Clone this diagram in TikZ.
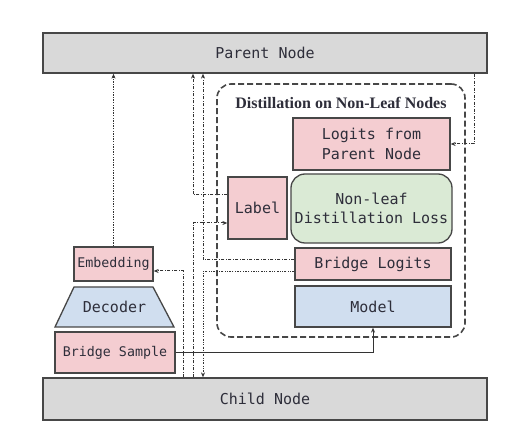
\documentclass[tikz,border=0pt]{standalone}
\usepackage{fontspec}
\setmainfont{Liberation Serif}
\newfontfamily\monof{DejaVu Sans Mono}
\usetikzlibrary{arrows.meta,calc}
\definecolor{pinkf}{HTML}{F4CDD1}
\definecolor{bluef}{HTML}{D0DEEF}
\definecolor{greenf}{HTML}{DAEAD5}
\definecolor{grayf}{HTML}{D9D9D9}
\definecolor{bordc}{HTML}{474747}
\definecolor{txtc}{HTML}{2E2E3A}
\definecolor{connc}{HTML}{333333}
\begin{document}
\begin{tikzpicture}[x=1pt,y=-1pt,
  box/.style={draw=bordc,line width=1.3pt,inner sep=0pt,text=txtc,
    font=\monof\fontsize{15}{20}\selectfont,align=center},
  pinkbox/.style={box,fill=pinkf},
  bluebox/.style={box,fill=bluef},
  graybox/.style={box,fill=grayf},
  greenbox/.style={box,fill=greenf,rounded corners=14pt},
  smallfont/.style={font=\monof\fontsize{13.3}{16}\selectfont},
  conn/.style={line width=1pt,draw=connc,-{Stealth[length=5pt,width=4pt]}},
  dd/.style={conn,dash pattern=on 3pt off 1.5pt on 1pt off 1.5pt},
  dt/.style={conn,dash pattern=on 1.3pt off 1.3pt},
  ddt/.style={conn,dash pattern=on 2pt off 1.3pt on 1pt off 1.3pt on 1pt off 1.3pt},
  solidc/.style={conn}]
\useasboundingbox (0,0) rectangle (512,438);
\fill[white] (0,0) rectangle (512,438);

% lanes
\coordinate (lane0) at (183,0);
\coordinate (lane1) at (193,0);
\coordinate (lane2) at (203,0);
\coordinate (laneR) at (474,0);

% big nodes
\node[graybox,minimum width=444pt,minimum height=40pt] (par) at (265,53) {Parent Node};
\node[graybox,minimum width=444pt,minimum height=42pt] (chi) at (265,399) {Child Node};

% dashed group
\node[draw=bordc,line width=1.6pt,dash pattern=on 6pt off 3pt,rounded corners=14pt,
  minimum width=248pt,minimum height=253pt,inner sep=0pt] (grp) at (341,210.5) {};
\node[font=\bfseries\fontsize{16}{18}\selectfont,text=txtc,inner sep=0pt] (ttl) at (341,103) {Distillation on Non-Leaf Nodes};

\node[pinkbox,minimum width=157pt,minimum height=52pt] (lpn) at (371.5,144) {Logits from\\Parent Node};
\node[pinkbox,minimum width=59pt,minimum height=62pt] (lab) at (257.5,208) {Label};
\node[greenbox,minimum width=161pt,minimum height=69pt,font=\monof\fontsize{15}{19}\selectfont] (loss) at (371.5,208.5) {Non-leaf\\Distillation Loss};
\node[pinkbox,minimum width=156pt,minimum height=32pt] (bl) at (373,264) {Bridge Logits};
\node[bluebox,minimum width=156pt,minimum height=41pt] (mdl) at (373,306.5) {Model};

% left column
\node[pinkbox,smallfont,minimum width=79pt,minimum height=34pt] (emb) at (113.5,264) {Embedding};
\draw[fill=bluef,draw=bordc,line width=1.3pt] (74,287) -- (153,287) -- (174,327) -- (55,327) -- cycle;
\node[text=txtc,font=\monof\fontsize{15}{18}\selectfont,inner sep=0pt] (dec) at (114.5,307) {Decoder};
\node[pinkbox,smallfont,minimum width=120pt,minimum height=41pt] (bs) at (115,352.5) {Bridge Sample};

% connectors
\draw[dt] (emb.north) -- (emb.north |- par.south);
\draw[dd] (laneR |- par.south) |- (lpn.east);
\draw[dd] ([yshift=13pt]lab.west) -| (lane1 |- par.south);
\draw[dd] (lane1 |- chi.north) |- ([yshift=-15pt]lab.west);
\draw[dd] ([yshift=4pt]bl.west) -| (lane2 |- par.south);
\draw[ddt] ([yshift=-8pt]bl.west) -| (lane2 |- chi.north);
\draw[dd] (lane0 |- chi.north) |- ([yshift=-7pt]emb.east);
\draw[solidc] (bs.east) -| (mdl.south);
\end{tikzpicture}
\end{document}
